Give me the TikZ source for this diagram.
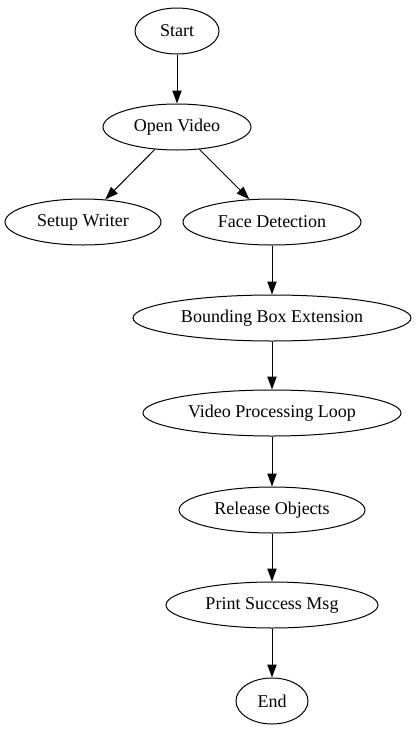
\documentclass[tikz,border=0pt]{standalone}
\usepackage{fontspec}
\setmainfont{Liberation Serif}
\usetikzlibrary{shapes.geometric, arrows.meta}

\tikzset{
    state/.style={draw, ellipse, line width=1pt, inner sep=0pt,
        minimum height=46pt, font=\fontsize{18}{21}\selectfont},
    flow/.style={-{Triangle[length=13pt, width=9.3pt]}, line width=1pt}
}

\begin{document}
\begin{tikzpicture}[x=1pt, y=-1pt]
    \useasboundingbox (0, 0) rectangle (418, 731);

    % ---------------------------------------------
    % nodes
    \node[state, minimum width=84pt] (start) at (177, 31) {Start};
    \node[state, minimum width=148pt] (open) at (177, 127) {Open Video};
    \node[state, minimum width=156pt] (writer) at (83, 222) {Setup Writer};
    \node[state, minimum width=178pt] (face) at (272, 222) {Face Detection};
    \node[state, minimum width=278pt] (bbox) at (272, 318) {Bounding Box Extension};
    \node[state, minimum width=258pt] (loop) at (272, 413) {Video Processing Loop};
    \node[state, minimum width=186pt] (release) at (272, 510) {Release Objects};
    \node[state, minimum width=212pt] (print) at (272, 605) {Print Success Msg};
    \node[state, minimum width=72pt] (end) at (272, 701) {End};

    % ---------------------------------------------
    % edges
    \draw[flow] (start) -- (open);
    \draw[flow] (open) -- (writer);
    \draw[flow] (open) -- (face);
    \draw[flow] (face) -- (bbox);
    \draw[flow] (bbox) -- (loop);
    \draw[flow] (loop) -- (release);
    \draw[flow] (release) -- (print);
    \draw[flow] (print) -- (end);

\end{tikzpicture}
\end{document}
